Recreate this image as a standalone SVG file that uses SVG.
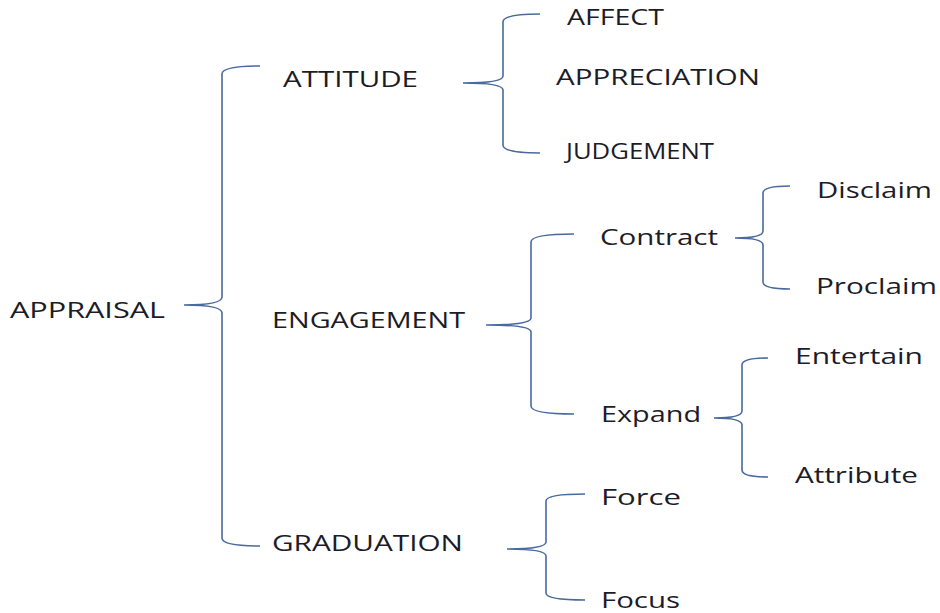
<svg xmlns="http://www.w3.org/2000/svg" width="940" height="613" viewBox="0 0 940 613">
<style>
text{font-family:"Open Sans","Liberation Sans",sans-serif;font-size:21px;fill:#1c1c28}
.b{fill:none;stroke:#4a6a9e;stroke-width:1.6}
</style>
<rect width="940" height="613" fill="#ffffff"/>
<g id="connectors">
<path class="b" d="M260,66 Q222,66 222,74 L222,297 Q222,305 184,305 Q222,305 222,313 L222,538 Q222,546 260,546"/>
<path class="b" d="M540,14 Q503,14 503,22 L503,76 Q503,83 463,83 Q503,83 503,90 L503,145 Q503,153 540,153"/>
<path class="b" d="M574,234 Q531,234 531,242 L531,318 Q531,325 486,325 Q531,325 531,332 L531,406 Q531,414 574,414"/>
<path class="b" d="M790,186 Q763,186 763,193 L763,231 Q763,238 735,238 Q763,238 763,245 L763,282 Q763,289 790,289"/>
<path class="b" d="M768,358 Q742,358 742,365 L742,411 Q742,418 714,418 Q742,418 742,425 L742,470 Q742,477 768,477"/>
<path class="b" d="M585,494 Q546,494 546,501 L546,542 Q546,549 507,549 Q546,549 546,556 L546,593 Q546,600 585,600"/>
</g>
<g id="appraisal"><text x="10" y="318" textLength="155" lengthAdjust="spacingAndGlyphs">APPRAISAL</text></g>
<g id="attitude"><text x="283" y="87" textLength="135" lengthAdjust="spacingAndGlyphs">ATTITUDE</text></g>
<g id="affect"><text x="567" y="25" textLength="97" lengthAdjust="spacingAndGlyphs">AFFECT</text></g>
<g id="appreciation"><text x="556" y="85" textLength="204" lengthAdjust="spacingAndGlyphs">APPRECIATION</text></g>
<g id="judgement"><text x="566" y="159" textLength="148" lengthAdjust="spacingAndGlyphs">JUDGEMENT</text></g>
<g id="engagement"><text x="272" y="328" textLength="193" lengthAdjust="spacingAndGlyphs">ENGAGEMENT</text></g>
<g id="contract"><text x="600" y="245" textLength="118" lengthAdjust="spacingAndGlyphs">Contract</text></g>
<g id="disclaim"><text x="817" y="198" textLength="115" lengthAdjust="spacingAndGlyphs">Disclaim</text></g>
<g id="proclaim"><text x="816" y="294" textLength="121" lengthAdjust="spacingAndGlyphs">Proclaim</text></g>
<g id="expand"><text x="601" y="422" textLength="100" lengthAdjust="spacingAndGlyphs">Expand</text></g>
<g id="entertain"><text x="795" y="364" textLength="128" lengthAdjust="spacingAndGlyphs">Entertain</text></g>
<g id="attribute"><text x="795" y="483" textLength="123" lengthAdjust="spacingAndGlyphs">Attribute</text></g>
<g id="graduation"><text x="272" y="551" textLength="191" lengthAdjust="spacingAndGlyphs">GRADUATION</text></g>
<g id="force"><text x="601" y="505" textLength="80" lengthAdjust="spacingAndGlyphs">Force</text></g>
<g id="focus"><text x="601" y="608" textLength="79" lengthAdjust="spacingAndGlyphs">Focus</text></g>
</svg>
